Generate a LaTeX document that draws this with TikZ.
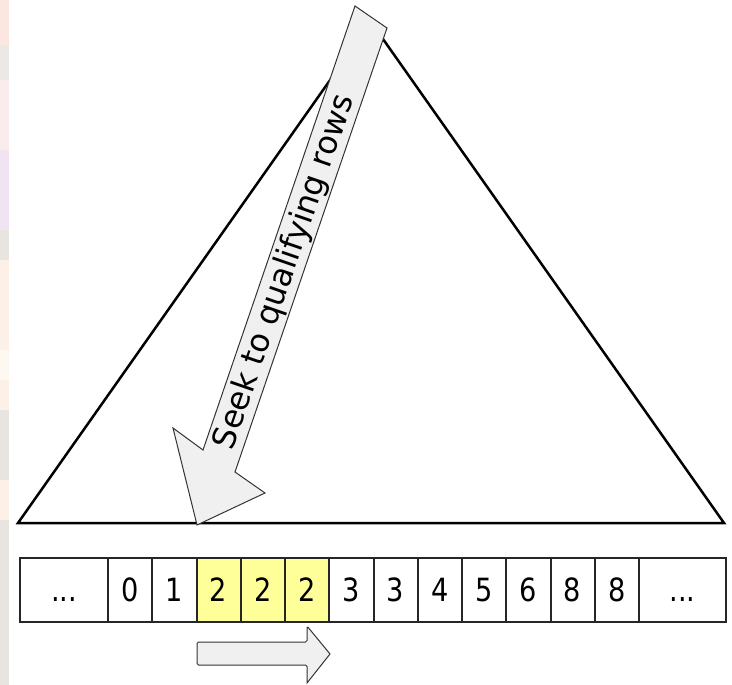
\documentclass[tikz,border=0pt]{standalone}
\usepackage{fontspec}
\setmainfont{DejaVu Sans}
\definecolor{cellyellow}{HTML}{FFFF99}
\definecolor{arrowgray}{HTML}{F0F0F0}
\begin{document}
\begin{tikzpicture}[x=1pt,y=-1pt,
  cellbox/.style={draw=black!85, line width=2pt, minimum height=64pt, inner sep=0pt, outer sep=0pt,
    text height=23pt, text depth=0pt, font=\fontsize{32pt}{38pt}\selectfont},
  digit/.style={cellbox, minimum width=44.25pt},
  dotcell/.style={cellbox, minimum width=87.5pt},
  hilite/.style={fill=cellyellow},
  blockarrow/.style={fill=arrowgray, draw=black!80, line width=1pt, line join=miter},
  tri/.style={draw=black, line width=2.5pt, line join=miter}]
\useasboundingbox (0,0) rectangle (732,685);
% faint background strip at left edge
\fill[HTML/.cd] (0,0) rectangle (0,0);
\fill[color={rgb,255:red,251;green,230;blue,224}] (0,0) rectangle (9,45);
\fill[color={rgb,255:red,236;green,232;blue,230}] (0,45) rectangle (9,80);
\fill[color={rgb,255:red,250;green,236;blue,236}] (0,80) rectangle (9,150);
\fill[color={rgb,255:red,240;green,228;blue,242}] (0,150) rectangle (9,230);
\fill[color={rgb,255:red,232;green,228;blue,224}] (0,230) rectangle (9,260);
\fill[color={rgb,255:red,253;green,240;blue,230}] (0,260) rectangle (9,350);
\fill[color={rgb,255:red,253;green,248;blue,242}] (0,350) rectangle (9,380);
\fill[color={rgb,255:red,253;green,240;blue,230}] (0,380) rectangle (9,410);
\fill[color={rgb,255:red,232;green,228;blue,224}] (0,410) rectangle (9,480);
\fill[color={rgb,255:red,253;green,240;blue,230}] (0,480) rectangle (9,520);
\fill[color={rgb,255:red,232;green,228;blue,224}] (0,520) rectangle (9,685);
% triangle
\coordinate (tl) at (18,523);
\coordinate (ta) at (371,22);
\coordinate (tr) at (724,523);
\draw[tri] (tl) -- (ta) -- (tr) -- cycle;
% big seek arrow
\draw[blockarrow] (355,6) -- (387,28) -- (235,472) -- (265,493) -- (197,525) -- (173,428) -- (203,450) -- cycle;
\node[rotate=71, font=\fontsize{32pt}{38pt}\selectfont, inner sep=0pt] (seek) at (285,272) {Seek to qualifying rows};
% cells
\node[dotcell] (c0) at (64,590) {\scalebox{0.85}[1]{...}};
\foreach \v [count=\i from 0] in {0,1,2,2,2,3,3,4,5,6,8,8}{
  \pgfmathsetmacro{\cx}{108+44.25*\i+22.125}
  \ifnum\i>1 \ifnum\i<5
    \node[digit, hilite] (d\i) at (\cx,590) {\scalebox{0.85}[1]{\v}};
  \else
    \node[digit] (d\i) at (\cx,590) {\scalebox{0.85}[1]{\v}};
  \fi\else
    \node[digit] (d\i) at (\cx,590) {\scalebox{0.85}[1]{\v}};
  \fi
}
\node[dotcell] (c13) at (682.5,590) {\scalebox{0.85}[1]{...}};
% scan arrow
\draw[blockarrow, rounded corners=1.5pt] (197,642) -- (307,642) -- (307,626) [sharp corners] -- (330,654) -- (307,683) [rounded corners=1.5pt] -- (307,665) -- (197,665) -- cycle;
\end{tikzpicture}
\end{document}
